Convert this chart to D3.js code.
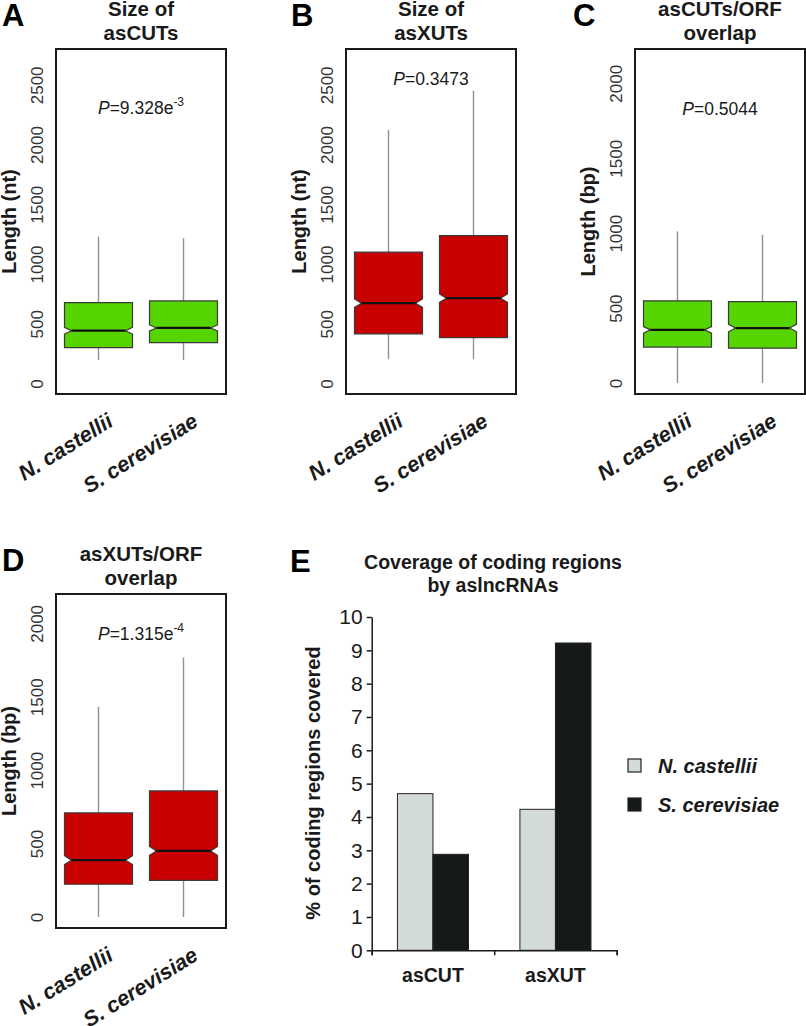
<!DOCTYPE html>
<html>
<head>
<meta charset="utf-8">
<script src="https://cdn.jsdelivr.net/npm/d3@7"></script>
<style>
  body { margin: 0; background: #fff; }
  svg { display: block; font-family: "Liberation Sans", Arial, sans-serif; }
</style>
</head>
<body>
<svg id="chart" width="806" height="1026"></svg>
<script>
// ---------------- DATA ----------------
const species = ["N. castellii", "S. cerevisiae"];

const panelLetters = ["A", "B", "C", "D"];
const panelTitles = [["Size of", "asCUTs"], ["Size of", "asXUTs"], ["asCUTs/ORF", "overlap"], ["asXUTs/ORF", "overlap"]];
const yTitles = ["Length (nt)", "Length (nt)", "Length (bp)", "Length (bp)"];
const pValues = [["9.328e", "-3"], ["0.3473", ""], ["0.5044", ""], ["1.315e", "-4"]];

const ticksNt = [0, 500, 1000, 1500, 2000, 2500];
const ticksBp = [0, 500, 1000, 1500, 2000];

// box statistics: whisker low, Q1, median, Q3, whisker high, notch half-width
const boxA = [
  { lo: 197, q1: 300, med: 442, q3: 677, hi: 1229, notch: 28 },
  { lo: 197, q1: 342, med: 465, q3: 691, hi: 1216, notch: 25 }
];
const boxB = [
  { lo: 203, q1: 415, med: 672, q3: 1099, hi: 2123, notch: 35 },
  { lo: 203, q1: 384, med: 714, q3: 1238, hi: 2452, notch: 35 }
];
const boxC = [
  { lo: 0, q1: 240, med: 355, q3: 549, hi: 1012, notch: 22 },
  { lo: 0, q1: 233, med: 367, q3: 544, hi: 989, notch: 25 }
];
const boxD = [
  { lo: 0, q1: 223, med: 387, q3: 709, hi: 1432, notch: 30 },
  { lo: 0, q1: 250, med: 450, q3: 859, hi: 1768, notch: 30 }
];

// panel E
const barCategories = ["asCUT", "asXUT"];
const coverageNC = [4.70, 4.23];
const coverageSC = [2.88, 9.22];
const barTicks = [0, 1, 2, 3, 4, 5, 6, 7, 8, 9, 10];
const titleE = ["Coverage of coding regions", "by aslncRNAs"];
const yTitleE = "% of coding regions covered";

// ---------------- DRAW ----------------
const svg = d3.select("#chart");
const GREEN = "#55d400", RED = "#c80000";
const TEXT = "#1a1a1a";

const panels = [
  { box: boxA, ticks: ticksNt, dom: [-88, 2800], x0: 56, x1: 226, y0: 49, y1: 394, fill: GREEN, pOff: 65, lx: 2 },
  { box: boxB, ticks: ticksNt, dom: [-88, 2800], x0: 346, x1: 516, y0: 49, y1: 394, fill: RED, pOff: 36, lx: 291 },
  { box: boxC, ticks: ticksBp, dom: [-73, 2229], x0: 635, x1: 805, y0: 49, y1: 394, fill: GREEN, pOff: 66, lx: 573 },
  { box: boxD, ticks: ticksBp, dom: [-75, 2200], x0: 56, x1: 226, y0: 594, y1: 928, fill: RED, pOff: 46, lx: 2 }
];

panels.forEach((p, i) => {
  const g = svg.append("g");
  const y = d3.scaleLinear().domain(p.dom).range([p.y1, p.y0]);
  const x = d3.scaleLinear().domain([0.5, 2.5]).range([p.x0, p.x1]);
  const halfW = (x(1.4) - x(1));  // box half width (boxwex 0.8)
  const inset = 7;

  // letter
  g.append("text").attr("x", p.lx).attr("y", p.y0 - 23)
    .attr("font-size", 31).attr("font-weight", "bold").attr("fill", "#000")
    .text(panelLetters[i]);

  // title
  const cx = (p.x0 + p.x1) / 2;
  panelTitles[i].forEach((t, k) => {
    g.append("text").attr("x", cx).attr("y", p.y0 - 33 + k * 24)
      .attr("text-anchor", "middle").attr("font-size", 20.5).attr("font-weight", "bold")
      .attr("fill", TEXT).text(t);
  });

  // y axis (labels only, rotated)
  const axis = d3.axisLeft(y).tickValues(p.ticks).tickSize(0).tickPadding(0).tickFormat(d3.format("d"));
  const ax = g.append("g").attr("transform", `translate(${p.x0 - 13},0)`).call(axis);
  ax.select(".domain").remove();
  ax.selectAll("text")
    .attr("x", 0).attr("y", 0).attr("dy", null)
    .attr("transform", "rotate(-90)")
    .attr("text-anchor", "middle")
    .attr("font-size", 17).attr("fill", "#333")
    .attr("font-family", "Liberation Sans, Arial, sans-serif");

  // y title
  g.append("text")
    .attr("transform", `translate(${p.x0 - 40},${(p.y0 + p.y1) / 2}) rotate(-90)`)
    .attr("text-anchor", "middle").attr("font-size", 20).attr("font-weight", "bold")
    .attr("fill", TEXT).text(yTitles[i]);

  // boxes
  p.box.forEach((b, j) => {
    const c = x(j + 1);
    g.append("line").attr("x1", c).attr("x2", c).attr("y1", y(b.hi)).attr("y2", y(b.q3))
      .attr("stroke", "#8c9494").attr("stroke-width", 1.4);
    g.append("line").attr("x1", c).attr("x2", c).attr("y1", y(b.q1)).attr("y2", y(b.lo))
      .attr("stroke", "#8c9494").attr("stroke-width", 1.4);
    const l = c - halfW, r = c + halfW;
    const pts = [
      [l, y(b.q3)], [r, y(b.q3)], [r, y(b.med + b.notch)], [r - inset, y(b.med)],
      [r, y(b.med - b.notch)], [r, y(b.q1)], [l, y(b.q1)], [l, y(b.med - b.notch)],
      [l + inset, y(b.med)], [l, y(b.med + b.notch)]
    ];
    g.append("path").attr("d", d3.line()(pts) + "Z")
      .attr("fill", p.fill).attr("stroke", "#3a3a3a").attr("stroke-width", 1.2);
    g.append("line").attr("x1", l + inset).attr("x2", r - inset)
      .attr("y1", y(b.med)).attr("y2", y(b.med))
      .attr("stroke", "#111").attr("stroke-width", 2.2);
  });

  // frame
  g.append("rect").attr("x", p.x0).attr("y", p.y0)
    .attr("width", p.x1 - p.x0).attr("height", p.y1 - p.y0)
    .attr("fill", "none").attr("stroke", "#1a1a1a").attr("stroke-width", 2);

  // P value
  const pt = g.append("text").attr("x", cx).attr("y", p.y0 + p.pOff)
    .attr("text-anchor", "middle").attr("font-size", 17.5).attr("fill", TEXT);
  pt.append("tspan").attr("font-style", "italic").text("P");
  pt.append("tspan").text("=" + pValues[i][0]);
  if (pValues[i][1]) pt.append("tspan").attr("dy", -8).attr("font-size", 12).text(pValues[i][1]);

  // x labels
  species.forEach((s, j) => {
    g.append("text")
      .attr("transform", `translate(${x(j + 1) + 16},${p.y1 + 31}) rotate(-32)`)
      .attr("text-anchor", "end").attr("font-size", 21.5).attr("font-weight", "bold")
      .attr("font-style", "italic").attr("fill", TEXT).text(s);
  });
});

// ---------------- PANEL E ----------------
const gE = svg.append("g");
const xE = d3.scaleBand().domain(barCategories).range([371.7, 616.7]).paddingInner(0.42).paddingOuter(0.21);
const yE = d3.scaleLinear().domain([0, 10]).range([950.3, 617]);
const xSub = d3.scaleBand().domain(species).range([0, xE.bandwidth()]);

gE.append("text").attr("x", 290).attr("y", 572).attr("font-size", 31)
  .attr("font-weight", "bold").attr("fill", "#000").text("E");
titleE.forEach((t, k) => {
  gE.append("text").attr("x", 493).attr("y", 569 + k * 23).attr("text-anchor", "middle")
    .attr("font-size", 19.5).attr("font-weight", "bold").attr("fill", TEXT).text(t);
});

const yAx = gE.append("g").attr("transform", "translate(371.7,0)")
  .call(d3.axisLeft(yE).tickValues(barTicks).tickSize(5).tickPadding(4).tickSizeOuter(0));
yAx.select(".domain").attr("stroke", "#1a1a1a").attr("stroke-width", 1.5);
yAx.selectAll(".tick line").attr("stroke", "#1a1a1a").attr("stroke-width", 1.5);
yAx.selectAll("text").attr("font-size", 21).attr("fill", TEXT)
  .attr("font-family", "Liberation Sans, Arial, sans-serif");

// bars
const barData = barCategories.map((c, i) => [
  { cat: c, sp: species[0], v: coverageNC[i], fill: "#d3dbd9" },
  { cat: c, sp: species[1], v: coverageSC[i], fill: "#151a18" }
]).flat();
gE.selectAll("rect.bar").data(barData).join("rect").attr("class", "bar")
  .attr("x", d => xE(d.cat) + xSub(d.sp))
  .attr("y", d => yE(d.v))
  .attr("width", xSub.bandwidth())
  .attr("height", d => yE(0) - yE(d.v))
  .attr("fill", d => d.fill).attr("stroke", "#222").attr("stroke-width", 1);

// x axis
const xAxisLine = gE.append("g").attr("transform", `translate(0,${yE(0)})`);
const xLin = d3.scaleLinear().domain([0, 2]).range([371.7, 616.7]);
xAxisLine.call(d3.axisBottom(xLin).tickValues([0, 1, 2]).tickSize(5).tickFormat(""));
xAxisLine.select(".domain").attr("stroke", "#1a1a1a").attr("stroke-width", 1.5);
xAxisLine.selectAll(".tick line").attr("stroke", "#1a1a1a").attr("stroke-width", 1.5);

barCategories.forEach(c => {
  gE.append("text").attr("x", xE(c) + xE.bandwidth() / 2).attr("y", 982)
    .attr("text-anchor", "middle").attr("font-size", 19.5).attr("font-weight", "bold")
    .attr("fill", TEXT).text(c);
});

gE.append("text").attr("transform", `translate(320,783) rotate(-90)`)
  .attr("text-anchor", "middle").attr("font-size", 20).attr("font-weight", "bold")
  .attr("fill", TEXT).text(yTitleE);

// legend
const legFills = ["#d3dbd9", "#151a18"];
species.forEach((s, k) => {
  const ly = 759 + k * 39;
  gE.append("rect").attr("x", 628).attr("y", ly).attr("width", 13).attr("height", 13)
    .attr("fill", legFills[k]).attr("stroke", "#222").attr("stroke-width", 1.2);
  gE.append("text").attr("x", 658).attr("y", ly + 13.5).attr("font-size", 20)
    .attr("font-weight", "bold").attr("font-style", "italic").attr("fill", TEXT).text(s);
});
</script>
</body>
</html>
